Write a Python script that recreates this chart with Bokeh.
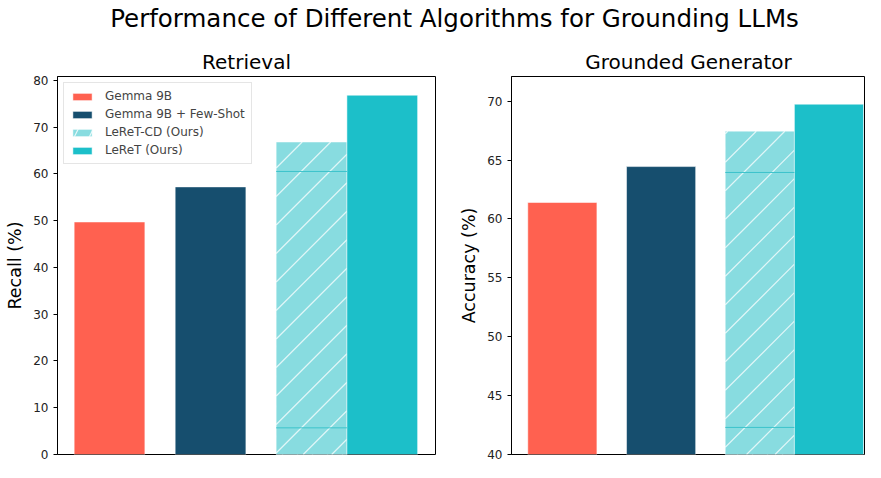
from bokeh.plotting import figure
from bokeh.models import FixedTicker, Range1d, Legend, LegendItem
from bokeh.layouts import column, row
from bokeh.core.properties import value
from bokeh.embed import file_html
from bokeh.resources import INLINE

# ---- data ----
methods = ["Gemma 9B", "Gemma 9B + Few-Shot", "LeReT-CD (Ours)", "LeReT (Ours)"]
recall = [49.7, 57.2, 66.8, 76.8]
accuracy = [61.4, 64.45, 67.45, 69.75]
recall_cd_lines = [60.5, 5.7]
accuracy_cd_lines = [63.95, 42.3]
recall_ticks = [0, 10, 20, 30, 40, 50, 60, 70, 80]
accuracy_ticks = [40, 45, 50, 55, 60, 65, 70]

# ---- layout / style (not data) ----
x_pos = [0, 1, 2, 2.7]
bar_w = 0.7
colors = ["#FF6150", "#164E6E", "#88DCE0", "#1CBFC9"]
FONT = "DejaVu Sans"
HEAD_H = 42
FIG_H = 420
TOP_B = 34
BOT_B = 8


def hatch_lines(x0, x1, y0, y1, kx, ky, spacing, phase):
    """45-degree (screen) diagonal lines clipped to a bar rectangle."""
    W = (x1 - x0) * kx
    H = (y1 - y0) * ky
    xs, ys = [], []
    for n in range(-60, 60):
        c = phase - H + n * spacing
        u0 = max(0.0, c)
        u1 = min(W, H + c)
        if u1 > u0:
            xs.append([x0 + u0 / kx, x0 + u1 / kx])
            ys.append([y0 + (u0 - c) / ky, y0 + (u1 - c) / ky])
    return xs, ys


def make_panel(title, ylabel, vals, cd_lines, ticks, ybot, ytop, width, xend,
               mbl, mbr, legend, phase):
    p = figure(width=width, height=FIG_H, output_backend="svg", toolbar_location=None,
               x_range=Range1d(-0.515, xend), y_range=Range1d(ybot, ytop),
               min_border_left=mbl, min_border_right=mbr, min_border_top=TOP_B,
               min_border_bottom=BOT_B, title=title, x_axis_location=None)
    p.title.text_font = FONT
    p.title.text_font_size = "20px"
    p.title.text_font_style = "normal"
    p.title.align = "center"
    p.title.text_color = "black"
    p.title.standoff = 6
    p.grid.visible = False
    p.outline_line_color = "black"
    p.outline_line_width = 1
    p.background_fill_color = "white"
    p.border_fill_color = "white"

    frame_w = width - mbl - mbr
    frame_h = FIG_H - TOP_B - BOT_B
    kx = frame_w / (xend + 0.515)
    ky = frame_h / (ytop - ybot)

    items = []
    for i in range(4):
        if i == 2:
            # hatched copy (shown in legend), covered by the solid bar + 45deg hatch
            rh = p.vbar(x=[x_pos[i]], top=[vals[i]], bottom=ybot, width=bar_w,
                        fill_color=colors[i], line_color="white", line_alpha=0.5,
                        hatch_pattern="/", hatch_color="white", hatch_alpha=0.8,
                        hatch_scale=30, hatch_weight=1.2)
            p.vbar(x=[x_pos[i]], top=[vals[i]], bottom=ybot, width=bar_w,
                   fill_color=colors[i], line_color="white", line_alpha=0.5, line_width=1)
            hx, hy = hatch_lines(x_pos[i] - bar_w / 2, x_pos[i] + bar_w / 2, ybot, vals[i],
                                 kx, ky, 28.5, phase)
            p.multi_line(xs=hx, ys=hy, line_color="white", line_alpha=0.75, line_width=1.2)
            items.append(LegendItem(label=methods[i], renderers=[rh]))
        else:
            r = p.vbar(x=[x_pos[i]], top=[vals[i]], bottom=ybot, width=bar_w,
                       fill_color=colors[i], line_color="white", line_alpha=0.5,
                       line_width=1)
            items.append(LegendItem(label=methods[i], renderers=[r]))

    p.segment(x0=[x_pos[2] - bar_w / 2] * len(cd_lines), x1=[x_pos[2] + bar_w / 2] * len(cd_lines),
              y0=cd_lines, y1=cd_lines, line_color="#3CC3CB", line_width=1)

    p.yaxis.ticker = FixedTicker(ticks=ticks)
    p.yaxis.axis_label = ylabel
    p.yaxis.axis_label_text_font = FONT
    p.yaxis.axis_label_text_font_size = "17.5px"
    p.yaxis.axis_label_text_font_style = "normal"
    p.yaxis.axis_label_text_color = "black"
    p.yaxis.major_label_text_font = FONT
    p.yaxis.major_label_text_font_size = "12px"
    p.yaxis.major_label_text_color = "#222222"
    p.yaxis.major_tick_in = 0
    p.yaxis.major_tick_out = 4
    p.yaxis.major_tick_line_color = "black"
    p.yaxis.minor_tick_line_color = None
    p.yaxis.axis_line_color = "black"

    if legend:
        lg = Legend(items=items, location="top_left")
        lg.label_text_font = FONT
        lg.label_text_font_size = "12px"
        lg.glyph_width = 24
        lg.glyph_height = 9
        lg.spacing = 4
        lg.padding = 6
        lg.margin = 6
        lg.label_height = 14
        lg.label_standoff = 11
        lg.border_line_color = "#cccccc"
        lg.border_line_width = 1
        p.add_layout(lg)
    return p


p1 = make_panel("Retrieval", "Recall (%)", recall, recall_cd_lines, recall_ticks,
                0, 80.8, 440, 3.227, 57, 5, True, 26)
p2 = make_panel("Grounded Generator", "Accuracy (%)", accuracy, accuracy_cd_lines, accuracy_ticks,
                40, 72.1, 425, 3.07, 71, 0, False, 31)

head = figure(width=865, height=HEAD_H, output_backend="svg", toolbar_location=None,
              x_range=Range1d(0, 865), y_range=Range1d(HEAD_H, 0),
              min_border=0)
head.axis.visible = False
head.grid.visible = False
head.outline_line_color = None
head.text(x=[454], y=[18], text=["Performance of Different Algorithms for Grounding LLMs"],
          text_font=value(FONT), text_font_size="24.5px", text_align="center",
          text_baseline="middle", text_color="black")

layout = column(head, row(p1, p2, spacing=0), spacing=0)

open("out.html", "w").write(file_html(layout, INLINE))
